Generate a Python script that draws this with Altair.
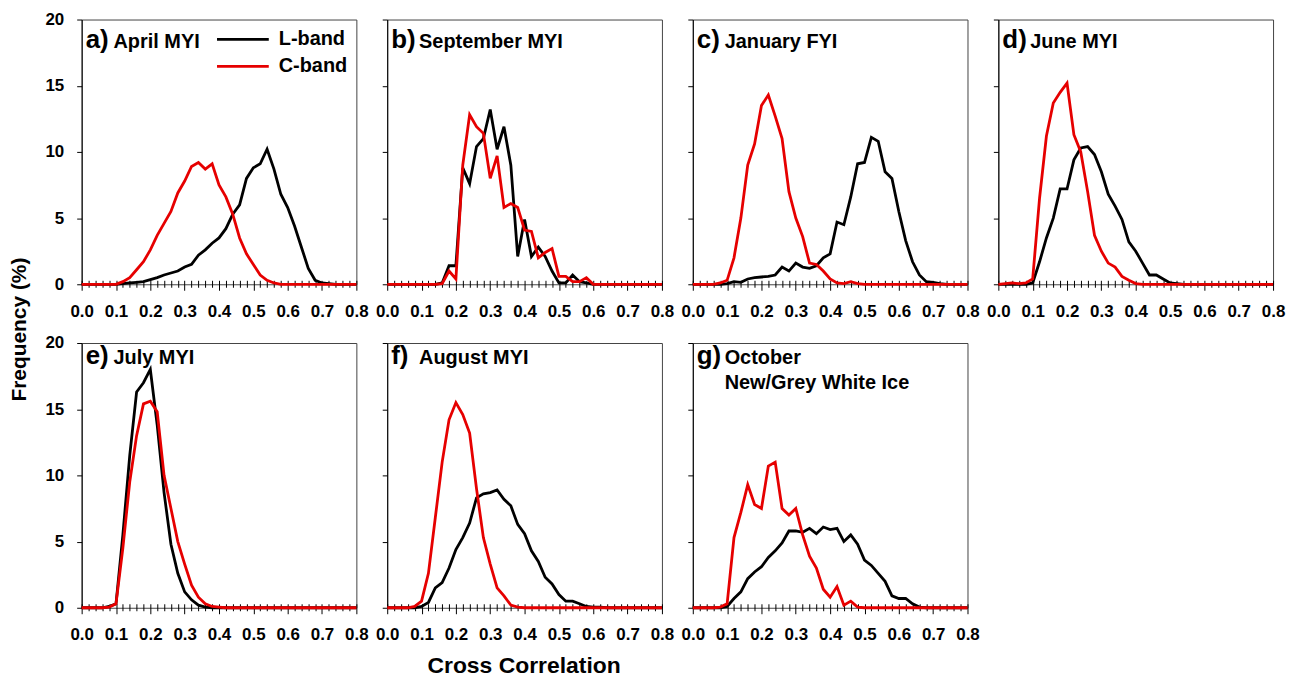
import altair as alt
import pandas as pd

FONT = "Liberation Sans"

# Cross correlation bins (0.00 .. 0.80 step 0.02)
XBINS = [0.00, 0.02, 0.04, 0.06, 0.08, 0.10, 0.12, 0.14, 0.16, 0.18,
         0.20, 0.22, 0.24, 0.26, 0.28, 0.30, 0.32, 0.34, 0.36, 0.38,
         0.40, 0.42, 0.44, 0.46, 0.48, 0.50, 0.52, 0.54, 0.56, 0.58,
         0.60, 0.62, 0.64, 0.66, 0.68, 0.70, 0.72, 0.74, 0.76, 0.78,
         0.80]

BANDS = ["L-band", "C-band"]
BAND_COLORS = ["#000000", "#e60000"]

PANEL_LETTERS = ["a)", "b)", "c)", "d)", "e)", "f)", "g)"]
PANEL_NAMES = ["April MYI", "September MYI", "January FYI", "June MYI",
               "July MYI", "August MYI", "October\nNew/Grey White Ice"]

# Frequency (%) per panel, one value per bin
a_L = [0, 0, 0, 0, 0, 0, 0.05, 0.1, 0.15, 0.2,
       0.35, 0.5, 0.7, 0.85, 1.0, 1.3, 1.5, 2.2, 2.6, 3.1,
       3.5, 4.2, 5.3, 6.0, 8.0, 8.8, 9.1, 10.2, 8.7, 6.8,
       5.8, 4.4, 2.8, 1.2, 0.3, 0.1, 0.05, 0, 0, 0,
       0]
a_C = [0, 0, 0, 0, 0, 0, 0.2, 0.5, 1.1, 1.7,
       2.6, 3.7, 4.6, 5.5, 6.9, 7.8, 8.9, 9.2, 8.7, 9.1,
       7.5, 6.6, 5.3, 3.5, 2.3, 1.5, 0.7, 0.3, 0.1, 0,
       0, 0, 0, 0, 0, 0, 0, 0, 0, 0,
       0]
b_L = [0, 0, 0, 0, 0, 0, 0, 0, 0.1, 1.4,
       1.4, 8.8, 7.6, 10.4, 11.0, 13.2, 10.2, 11.9, 9.0, 2.1,
       4.9, 2.1, 2.8, 2.1, 1.0, 0.1, 0.1, 0.7, 0.2, 0.1,
       0, 0, 0, 0, 0, 0, 0, 0, 0, 0,
       0]
b_C = [0, 0, 0, 0, 0, 0, 0, 0, 0.05, 1.0,
       0.4, 9.0, 12.8, 11.9, 11.4, 8.0, 9.7, 5.8, 6.1, 5.8,
       4.1, 4.0, 2.0, 2.4, 2.7, 0.6, 0.6, 0.2, 0.2, 0.5,
       0, 0, 0, 0, 0, 0, 0, 0, 0, 0,
       0]
c_L = [0, 0, 0, 0, 0, 0.05, 0.2, 0.15, 0.4, 0.5,
       0.55, 0.6, 0.7, 1.3, 1.0, 1.6, 1.3, 1.2, 1.4, 2.0,
       2.3, 4.7, 4.5, 6.6, 9.1, 9.2, 11.1, 10.8, 8.5, 8.0,
       5.5, 3.3, 1.7, 0.7, 0.2, 0.15, 0.05, 0, 0, 0,
       0]
c_C = [0, 0, 0, 0, 0.1, 0.3, 2.0, 5.0, 9.0, 10.6,
       13.5, 14.3, 12.7, 11.0, 7.0, 5.0, 3.6, 1.6, 1.5, 1.0,
       0.4, 0.1, 0.05, 0.2, 0.05, 0, 0, 0, 0, 0,
       0, 0, 0, 0, 0, 0, 0, 0, 0, 0,
       0]
d_L = [0, 0, 0, 0, 0, 0.1, 1.7, 3.5, 5.0, 7.2,
       7.2, 9.4, 10.3, 10.4, 9.8, 8.5, 6.8, 5.9, 4.9, 3.2,
       2.5, 1.6, 0.7, 0.7, 0.4, 0.1, 0.05, 0, 0, 0,
       0, 0, 0, 0, 0, 0, 0, 0, 0, 0,
       0]
d_C = [0, 0.05, 0.1, 0.05, 0.1, 0.4, 6.5, 11.2, 13.7, 14.5,
       15.2, 11.3, 10.0, 7.0, 3.7, 2.5, 1.6, 1.3, 0.6, 0.3,
       0.05, 0, 0, 0, 0, 0, 0, 0, 0, 0,
       0, 0, 0, 0, 0, 0, 0, 0, 0, 0,
       0]
e_L = [0, 0, 0, 0, 0.1, 0.3, 5.5, 11.5, 16.3, 17.0,
       18.0, 13.8, 8.7, 4.8, 2.6, 1.2, 0.6, 0.2, 0.05, 0,
       0, 0, 0, 0, 0, 0, 0, 0, 0, 0,
       0, 0, 0, 0, 0, 0, 0, 0, 0, 0,
       0]
e_C = [0, 0, 0, 0, 0.05, 0.3, 4.5, 9.5, 13.0, 15.4,
       15.6, 14.8, 10.0, 7.5, 5.0, 3.3, 1.7, 0.8, 0.3, 0.1,
       0.05, 0, 0, 0, 0, 0, 0, 0, 0, 0,
       0, 0, 0, 0, 0, 0, 0, 0, 0, 0,
       0]
f_L = [0, 0, 0, 0, 0, 0.1, 0.4, 1.5, 1.9, 3.0,
       4.4, 5.3, 6.4, 8.3, 8.6, 8.7, 8.9, 8.2, 7.7, 6.3,
       5.6, 4.3, 3.5, 2.3, 1.8, 1.0, 0.5, 0.5, 0.3, 0.1,
       0.05, 0.05, 0, 0, 0, 0, 0, 0, 0, 0,
       0]
f_C = [0, 0, 0, 0, 0.1, 0.5, 2.6, 6.8, 11.0, 14.2,
       15.5, 14.6, 13.2, 9.0, 5.3, 3.3, 1.5, 0.9, 0.2, 0.05,
       0, 0, 0, 0, 0, 0, 0, 0, 0, 0,
       0, 0, 0, 0, 0, 0, 0, 0, 0, 0,
       0]
g_L = [0, 0, 0, 0, 0, 0.1, 0.7, 1.2, 2.2, 2.7,
       3.1, 3.8, 4.3, 4.9, 5.8, 5.8, 5.7, 6.0, 5.6, 6.1,
       5.9, 6.0, 5.0, 5.5, 4.8, 3.6, 3.2, 2.6, 2.0, 0.9,
       0.7, 0.7, 0.3, 0.05, 0, 0, 0, 0, 0, 0,
       0]
g_C = [0, 0, 0, 0, 0.05, 0.3, 5.3, 7.2, 9.3, 7.8,
       7.5, 10.7, 11.0, 7.5, 7.0, 7.5, 5.5, 3.9, 3.0, 1.4,
       0.8, 1.6, 0.2, 0.5, 0.05, 0, 0, 0, 0, 0,
       0, 0, 0, 0, 0, 0, 0, 0, 0, 0,
       0]

SERIES = [(a_L, a_C), (b_L, b_C), (c_L, c_C), (d_L, d_C),
          (e_L, e_C), (f_L, f_C), (g_L, g_C)]

Y_TICKS = [0, 5, 10, 15, 20]

W, H = 276, 266
MAJOR = "abs(datum.value*10 - round(datum.value*10)) < 0.001"
COLOR_SCALE = alt.Scale(domain=BANDS, range=BAND_COLORS)


def legend_layers():
    """Line-sample legend drawn inside panel a (L-band row, then C-band row)."""
    out = []
    for k, band in enumerate(BANDS):
        src = pd.DataFrame({"band": [band]})
        yy = 20 + 27 * k
        out.append(alt.Chart(src).mark_rule(strokeWidth=2.8).encode(
            x=alt.value(136), x2=alt.value(188), y=alt.value(yy),
            color=alt.Color("band:N", scale=COLOR_SCALE, legend=None)))
        out.append(alt.Chart(src).mark_text(
            align="left", baseline="middle", fontSize=20, fontWeight="bold",
            font=FONT, color="black").encode(
            text="band:N", x=alt.value(198), y=alt.value(yy)))
    return out


def panel(i, show_ylabels, row):
    L, C = SERIES[i]
    df = pd.DataFrame({"x": XBINS + XBINS, "freq": L + C,
                       "band": ["L-band"] * len(L) + ["C-band"] * len(C)})
    xaxis_kw = dict(values=XBINS,
                    labelExpr=MAJOR + " ? format(datum.value, '.1f') : ''",
                    tickSize={"condition": {"test": MAJOR, "value": 10}, "value": 7},
                    offset=-4, domain=False, grid=False, labelFontSize=17,
                    labelFontWeight="bold", labelFont=FONT, labelColor="black",
                    tickColor="black", labelPadding=13, labelOverlap=False,
                    labelFlush=False, title=None)
    if i == 5:
        xaxis_kw.update(title="Cross Correlation", titleX=137, titleY=62,
                        titleFontSize=23, titleFontWeight="bold", titleFont=FONT,
                        titleColor="black", titleBaseline="middle",
                        titleAlign="center")
    yaxis_kw = dict(values=Y_TICKS, tickSize=5, labels=show_ylabels, grid=False,
                    labelFontSize=17, labelFontWeight="bold", labelFont=FONT,
                    labelColor="black", labelPadding=13, domainColor="black",
                    tickColor="black", title=None)
    if i == 0:
        yaxis_kw.update(title="Frequency (%)", titleX=-62, titleY=311,
                        titleFontSize=21, titleFontWeight="bold", titleFont=FONT,
                        titleColor="black", titleBaseline="middle",
                        titleAlign="center", titleAngle=-90)

    lines = alt.Chart(df).mark_line(strokeWidth=2.8).encode(
        x=alt.X("x:Q", scale=alt.Scale(domain=[0, 0.8], nice=False),
                axis=alt.Axis(**xaxis_kw)),
        y=alt.Y("freq:Q", scale=alt.Scale(domain=[0, 20], nice=False),
                axis=alt.Axis(**yaxis_kw)),
        color=alt.Color("band:N", scale=COLOR_SCALE, legend=None),
        order=alt.Order("x:Q"),
    )
    ty = 29 if row == 0 else 21
    letter = alt.Chart(pd.DataFrame({"t": [PANEL_LETTERS[i]]})).mark_text(
        align="left", baseline="alphabetic", fontSize=26, fontWeight="bold",
        font=FONT, color="black"
    ).encode(text="t:N", x=alt.value(4), y=alt.value(ty))
    name = alt.Chart(pd.DataFrame({"t": [PANEL_NAMES[i]]})).mark_text(
        align="left", baseline="alphabetic", fontSize=20, fontWeight="bold",
        font=FONT, color="black", lineBreak="\n", lineHeight=25
    ).encode(text="t:N", x=alt.value(32), y=alt.value(ty))
    layers = [lines, letter, name]
    if i == 0:
        layers += legend_layers()
    return alt.layer(*layers).properties(width=W, height=H)


panels = [panel(i, i in (0, 4), 0 if i < 4 else 1) for i in range(7)]

chart = alt.concat(*panels, columns=4, spacing={"row": 59, "column": 31},
                   bounds="flush").properties(
    padding={"left": 0, "top": 0, "right": 0, "bottom": 0}
).configure_view(stroke="#444444", strokeWidth=1).configure_axis(
    tickWidth=1, domainWidth=1
).resolve_scale(color="shared")

chart.save("out.html", embed_options={"renderer": "svg", "actions": False})
